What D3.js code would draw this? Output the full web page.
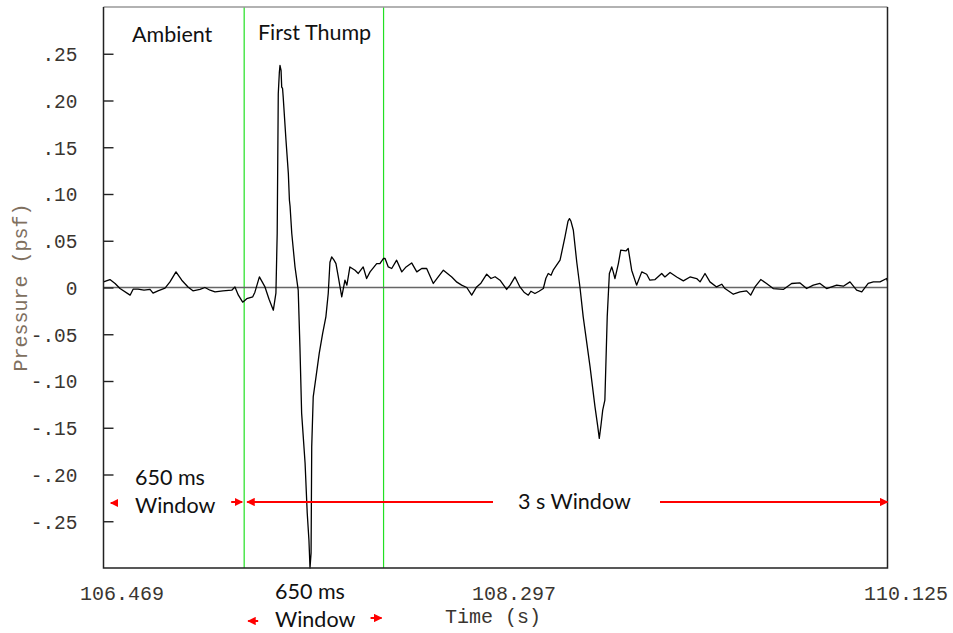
<!DOCTYPE html>
<html>
<head>
<meta charset="utf-8">
<script src="https://cdn.jsdelivr.net/npm/d3@7"></script>
<style>
  html, body { margin: 0; padding: 0; background: #fff; }
  svg { display: block; }
</style>
</head>
<body>
<svg id="chart" width="953" height="633"></svg>
<script>
// Pressure trace of the sonic thump record (time in s, pressure in psf)
const times = [
  106.469, 106.499, 106.523, 106.546, 106.593, 106.607, 106.630, 106.658, 106.686, 106.700,
  106.723, 106.756, 106.779, 106.807, 106.834, 106.863, 106.886, 106.919, 106.942, 106.966,
  106.989, 107.026, 107.067, 107.082, 107.098, 107.118, 107.137, 107.165, 107.175, 107.196,
  107.222, 107.241, 107.261, 107.273, 107.279, 107.284, 107.289, 107.292, 107.297, 107.300,
  107.304, 107.307, 107.320, 107.331, 107.336, 107.339, 107.347, 107.362, 107.377, 107.385,
  107.393, 107.409, 107.419, 107.427, 107.432, 107.437, 107.440, 107.447, 107.460, 107.475,
  107.491, 107.506, 107.517, 107.525, 107.533, 107.544, 107.553, 107.564, 107.580, 107.595,
  107.604, 107.618, 107.642, 107.657, 107.680, 107.696, 107.712, 107.743, 107.758, 107.774,
  107.782, 107.797, 107.813, 107.836, 107.860, 107.880, 107.906, 107.930, 107.953, 107.976,
  108.007, 108.029, 108.054, 108.093, 108.117, 108.139, 108.163, 108.186, 108.209, 108.229,
  108.256, 108.276, 108.295, 108.318, 108.349, 108.365, 108.388, 108.411, 108.430, 108.450,
  108.462, 108.481, 108.500, 108.520, 108.532, 108.543, 108.556, 108.566, 108.598, 108.621,
  108.635, 108.642, 108.649, 108.660, 108.676, 108.691, 108.706, 108.738, 108.761, 108.773,
  108.781, 108.789, 108.797, 108.807, 108.818, 108.828, 108.839, 108.846, 108.854, 108.870,
  108.881, 108.905, 108.916, 108.932, 108.955, 108.979, 109.002, 109.017, 109.041, 109.072,
  109.087, 109.111, 109.142, 109.173, 109.204, 109.235, 109.251, 109.274, 109.297, 109.328,
  109.352, 109.367, 109.406, 109.437, 109.468, 109.487, 109.507, 109.534, 109.561, 109.592,
  109.639, 109.678, 109.717, 109.748, 109.779, 109.810, 109.841, 109.888, 109.919, 109.950,
  109.981, 110.005, 110.035, 110.059, 110.090, 110.121, 110.125
];
const pressures = [
  0.0060, 0.0085, 0.0043, -0.0011, -0.0082, -0.0018, -0.0018, -0.0029, -0.0021, -0.0061,
  -0.0036, -0.0007, 0.0060, 0.0167, 0.0078, 0.0006, -0.0036, -0.0021, 0.0000, -0.0029,
  -0.0047, -0.0036, -0.0029, 0.0006, -0.0082, -0.0157, -0.0120, -0.0100, -0.0050, 0.0113,
  0.0006, -0.0125, -0.0243, -0.0061, 0.0580, 0.2073, 0.2300, 0.2375, 0.2322, 0.2143,
  0.2129, 0.2036, 0.1574, 0.1218, 0.0933, 0.0869, 0.0577, 0.0220, -0.0029, -0.0635,
  -0.1346, -0.1877, -0.2411, -0.2700, -0.3000, -0.2839, -0.1703, -0.1169, -0.0955, -0.0705,
  -0.0491, -0.0314, -0.0064, 0.0270, 0.0327, 0.0292, 0.0256, 0.0113, -0.0100, 0.0078,
  0.0025, 0.0220, 0.0185, 0.0150, 0.0220, 0.0096, 0.0167, 0.0256, 0.0256, 0.0310,
  0.0310, 0.0220, 0.0203, 0.0292, 0.0167, 0.0220, 0.0263, 0.0167, 0.0203, 0.0203,
  0.0043, 0.0110, 0.0185, 0.0113, 0.0057, 0.0025, 0.0000, -0.0082, 0.0006, 0.0046,
  0.0142, 0.0096, 0.0115, 0.0078, -0.0021, 0.0025, 0.0113, 0.0006, -0.0050, -0.0082,
  -0.0040, -0.0064, -0.0040, -0.0011, 0.0099, 0.0150, 0.0131, 0.0185, 0.0292, 0.0541,
  0.0708, 0.0737, 0.0708, 0.0612, 0.0270, 0.0000, -0.0314, -0.0848, -0.1276, -0.1471,
  -0.1613, -0.1471, -0.1311, -0.1204, -0.0314, 0.0150, 0.0220, 0.0167, 0.0096, 0.0256,
  0.0399, 0.0391, 0.0417, 0.0185, 0.0025, 0.0167, 0.0142, 0.0078, 0.0085, 0.0150,
  0.0113, 0.0160, 0.0113, 0.0071, 0.0113, 0.0096, 0.0060, 0.0150, 0.0060, 0.0006,
  0.0035, -0.0011, -0.0072, -0.0047, -0.0036, -0.0082, 0.0006, 0.0085, 0.0043, -0.0011,
  -0.0021, 0.0043, 0.0049, -0.0011, 0.0025, 0.0043, -0.0011, 0.0025, 0.0014, 0.0060,
  -0.0029, -0.0047, 0.0043, 0.0060, 0.0060, 0.0096, 0.0067
];

// Axis ticks
const timeTicks = [106.469, 108.297, 110.125];
const timeTickLabels = ["106.469", "108.297", "110.125"];
const pressureTicks = [0.25, 0.20, 0.15, 0.10, 0.05, 0, -0.05, -0.10, -0.15, -0.20, -0.25];
const pressureTickLabels = [".25", ".20", ".15", ".10", ".05", "0", "-.05", "-.10", "-.15", "-.20", "-.25"];

// Analysis windows (s)
const ambientWindow = [106.475, 107.125];
const thumpWindow = [107.125, 107.775];
const longWindow = [107.125, 110.125];

const svg = d3.select("#chart");
const plot = { left: 103.5, right: 887.5, top: 7, bottom: 568 };

const x = d3.scaleLinear().domain([106.469, 110.125]).range([plot.left, plot.right]);
const y = d3.scaleLinear().domain([-0.3, 0.3]).range([plot.bottom, plot.top]);

const monoFont = "'Liberation Mono', 'Courier New', monospace";
const sansFont = "Lato, 'Open Sans', sans-serif";

const defs = svg.append("defs");
function arrowMarker(id, orient) {
  defs.append("marker")
    .attr("id", id)
    .attr("viewBox", "0 0 10 10")
    .attr("refX", 9).attr("refY", 5)
    .attr("markerWidth", 4.2).attr("markerHeight", 4.2)
    .attr("markerUnits", "strokeWidth")
    .attr("orient", orient)
    .append("path")
    .attr("d", "M0,0 L10,5 L0,10 Z")
    .attr("fill", "#ff0000");
}
arrowMarker("arrowEnd", "auto");
arrowMarker("arrowStart", "auto-start-reverse");

// Window boundaries
svg.append("g").selectAll("line")
  .data([thumpWindow[0], thumpWindow[1]])
  .join("line")
  .attr("x1", d => x(d)).attr("x2", d => x(d))
  .attr("y1", plot.top).attr("y2", plot.bottom)
  .attr("stroke", "#22e022").attr("stroke-width", 1.2);

// Zero reference line
svg.append("line")
  .attr("x1", plot.left).attr("x2", plot.right)
  .attr("y1", y(0)).attr("y2", y(0))
  .attr("stroke", "#666").attr("stroke-width", 1.4);

// Pressure trace
const series = times.map((t, i) => [t, pressures[i]]);
svg.append("path")
  .datum(series)
  .attr("fill", "none")
  .attr("stroke", "#000")
  .attr("stroke-width", 1.3)
  .attr("stroke-linejoin", "round")
  .attr("d", d3.line().x(d => x(d[0])).y(d => y(d[1])));

// Frame
svg.append("line").attr("x1", plot.left).attr("x2", plot.right)
  .attr("y1", plot.top).attr("y2", plot.top)
  .attr("stroke", "#999").attr("stroke-width", 1.4);
svg.append("path")
  .attr("d", `M${plot.left},${plot.top} V${plot.bottom} H${plot.right} V${plot.top}`)
  .attr("fill", "none").attr("stroke", "#222").attr("stroke-width", 1.5);

// Y axis (inward ticks)
const yAxis = d3.axisLeft(y)
  .tickValues(pressureTicks)
  .tickSize(-10)
  .tickPadding(26)
  .tickFormat((d, i) => pressureTickLabels[i]);
const gy = svg.append("g").attr("transform", `translate(${plot.left},0)`).call(yAxis);
gy.select(".domain").remove();
gy.selectAll(".tick line").attr("stroke", "#222").attr("stroke-width", 1.4);
gy.selectAll(".tick text")
  .attr("font-family", monoFont).attr("font-size", 19.5)
  .attr("fill", "#3a3530").attr("dy", "0.35em");

// X axis (labels only)
const xAxis = d3.axisBottom(x)
  .tickValues(timeTicks)
  .tickSize(0)
  .tickPadding(18)
  .tickFormat((d, i) => timeTickLabels[i]);
const gx = svg.append("g").attr("transform", `translate(0,${plot.bottom})`).call(xAxis);
gx.select(".domain").remove();
gx.selectAll(".tick text")
  .attr("font-family", monoFont).attr("font-size", 20)
  .attr("fill", "#3a3530").attr("dx", 18);

// Axis titles
svg.append("text")
  .attr("x", 493).attr("y", 623)
  .attr("text-anchor", "middle")
  .attr("font-family", monoFont).attr("font-size", 20)
  .attr("fill", "#3a3530")
  .text("Time (s)");
svg.append("text")
  .attr("transform", `translate(27,${y(0)}) rotate(-90)`)
  .attr("text-anchor", "middle")
  .attr("font-family", monoFont).attr("font-size", 20)
  .attr("fill", "#80705f")
  .text("Pressure (psf)");

// Annotation labels
const labels = [
  { text: "Ambient", x: 132, y: 42 },
  { text: "First Thump", x: 258, y: 40 },
  { text: "650 ms", x: 135, y: 485 },
  { text: "Window", x: 135, y: 513 },
  { text: "3 s Window", x: 518, y: 509 },
  { text: "650 ms", x: 275, y: 599 },
  { text: "Window", x: 275, y: 627 }
];
svg.append("g").selectAll("text")
  .data(labels)
  .join("text")
  .attr("x", d => d.x).attr("y", d => d.y)
  .attr("font-family", sansFont).attr("font-size", 21.5)
  .attr("fill", "#111")
  .text(d => d.text);

// Red window arrows
const arrowY = 502;
function redLine(x1, y1, x2, y2, start, end) {
  const l = svg.append("line")
    .attr("x1", x1).attr("y1", y1).attr("x2", x2).attr("y2", y2)
    .attr("stroke", "#ff0000").attr("stroke-width", 2);
  if (start) l.attr("marker-start", "url(#arrowStart)");
  if (end) l.attr("marker-end", "url(#arrowEnd)");
}
// 3 s window: two halves around its label
redLine(x(longWindow[0]) + 3, arrowY, 493, arrowY, true, false);
redLine(660, arrowY, x(longWindow[1]), arrowY, false, true);
// Ambient window edges
redLine(x(ambientWindow[0]) + 13, 503, x(ambientWindow[0]) + 6, 503, false, true);
redLine(x(ambientWindow[1]) - 13, 502, x(ambientWindow[1]) - 2, 502, false, true);
// First thump window edges
redLine(x(thumpWindow[0]) + 14, 621, x(thumpWindow[0]) + 4, 621, false, true);
redLine(x(thumpWindow[1]) - 13, 618, x(thumpWindow[1]) - 2, 618, false, true);
</script>
</body>
</html>
